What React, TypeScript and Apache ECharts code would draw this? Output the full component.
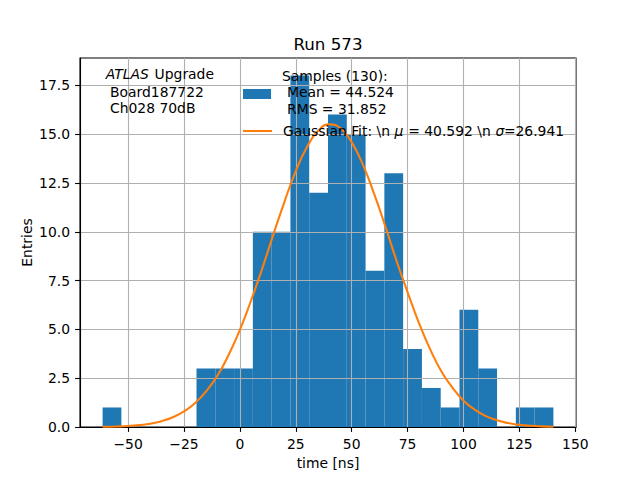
import React, { useEffect, useRef } from "react";
import * as echarts from "echarts";

const binEdges = [
  -61.4, -53.0, -44.6, -36.2, -27.8, -19.4, -11.0, -2.6, 5.8, 14.2, 22.6, 31.0,
  39.4, 47.8, 56.2, 64.6, 73.0, 81.4, 89.8, 98.2, 106.6, 115.0, 123.4, 131.8, 140.2,
];
const counts = [1, 0, 0, 0, 0, 3, 3, 3, 10, 10, 18, 12, 16, 15, 8, 13, 4, 2, 1, 6, 3, 0, 1, 1];

const fitX = [
  -61.4, -55, -50, -45, -40, -35, -30, -25, -20, -15, -10, -5, 0, 5, 10, 15, 20, 25, 30, 35,
  40, 45, 50, 55, 60, 65, 70, 75, 80, 85, 90, 95, 100, 105, 110, 115, 120, 125, 130, 135, 140.2,
];
const fitY = [
  0.012, 0.029, 0.053, 0.1, 0.17, 0.3, 0.5, 0.8, 1.23, 1.84, 2.64, 3.7, 4.97, 6.48, 8.12,
  9.87, 11.56, 13.11, 14.34, 15.17, 15.5, 15.3, 14.58, 13.44, 11.95, 10.29, 8.53, 6.9, 5.35,
  4.0, 2.87, 2.02, 1.35, 0.89, 0.56, 0.34, 0.2, 0.11, 0.06, 0.033, 0.017,
];

const xTicks = [-50, -25, 0, 25, 50, 75, 100, 125, 150];
const yTicks = [0, 2.5, 5, 7.5, 10, 12.5, 15, 17.5];

const FONT = "DejaVu Sans";
const FS = 13.9;

export default function App() {
  const ref = useRef<HTMLDivElement>(null);
  useEffect(() => {
    if (!ref.current) return;
    const chart = echarts.init(ref.current, null, { renderer: "svg" });
    const histData = counts.map((c, i) => [binEdges[i], binEdges[i + 1], c]);
    const fitData = fitX.map((x, i) => [x, fitY[i]]);
    const txt = (text: string, x: number, y: number, extra: any = {}) => ({
      type: "text",
      z: 100,
      x,
      y,
      style: {
        text,
        fill: "#000",
        font: `${extra.italic ? "italic " : ""}${FS}px "${FONT}"`,
        align: extra.align || "left",
        verticalAlign: "middle",
        ...(extra.style || {}),
      },
    });
    chart.setOption({
      animation: false,
      backgroundColor: "#fff",
      grid: {
        left: 80,
        right: 64,
        top: 58,
        bottom: 53,
        show: true,
        borderColor: "#000",
        borderWidth: 1.1,
        backgroundColor: "transparent",
      },
      xAxis: {
        type: "value",
        min: -71.5,
        max: 150.3,
        z: 2,
        name: "time [ns]",
        nameLocation: "middle",
        nameGap: 29,
        nameMoveOverlap: false,
        nameTextStyle: { color: "#000", fontSize: FS, fontFamily: FONT },
        axisLine: { show: true, onZero: false, lineStyle: { color: "#000", width: 1.1 } },
        axisTick: {
          show: true,
          customValues: xTicks,
          length: 4.9,
          lineStyle: { color: "#000", width: 1.1 },
        },
        axisLabel: {
          customValues: xTicks,
          margin: 10,
          color: "#000",
          fontSize: FS,
          fontFamily: FONT,
          formatter: (v: number) => (v < 0 ? "\u2212" + Math.abs(v) : String(v)),
        },
        splitLine: { show: true, lineStyle: { color: "#b0b0b0", width: 1.1 } },
      },
      yAxis: {
        type: "value",
        min: 0,
        max: 18.9,
        z: 2,
        name: "Entries",
        nameLocation: "middle",
        nameGap: 46,
        nameMoveOverlap: false,
        nameTextStyle: { color: "#000", fontSize: FS, fontFamily: FONT },
        axisLine: { show: true, onZero: false, lineStyle: { color: "#000", width: 1.1 } },
        axisTick: {
          show: true,
          customValues: yTicks,
          length: 4.9,
          lineStyle: { color: "#000", width: 1.1 },
        },
        axisLabel: {
          customValues: yTicks,
          margin: 10,
          color: "#000",
          fontSize: FS,
          fontFamily: FONT,
          formatter: (v: number) => v.toFixed(1),
        },
        splitLine: { show: true, lineStyle: { color: "#b0b0b0", width: 1.1 } },
      },
      series: [
        {
          type: "custom",
          z: 1,
          data: histData,
          encode: { x: [0, 1], y: 2 },
          renderItem: (params: any, api: any) => {
            const x0 = api.value(0);
            const x1 = api.value(1);
            const h = api.value(2);
            const p0 = api.coord([x0, h]);
            const p1 = api.coord([x1, 0]);
            return {
              type: "rect",
              shape: { x: p0[0], y: p0[1], width: p1[0] - p0[0], height: p1[1] - p0[1] },
              style: { fill: "#1f77b4" },
            };
          },
        },
        {
          type: "line",
          z: 3,
          data: fitData,
          showSymbol: false,
          smooth: true,
          lineStyle: { color: "#ff7f0e", width: 2.08 },
        },
      ],
      graphic: [
        txt("Run 573", 328, 43.5, { align: "center", style: { font: `16.7px "${FONT}"` } }),
        txt("ATLAS", 105.7, 74, { italic: true }),
        txt("Upgrade", 154.6, 74),
        txt("Board187722", 110, 92.3),
        txt("Ch028 70dB", 110, 107.8),
        {
          type: "rect",
          z: 100,
          shape: { x: 243, y: 89, width: 28, height: 10 },
          style: { fill: "#1f77b4" },
        },
        txt("Samples (130):", 282, 76),
        txt("Mean = 44.524", 287, 92.3),
        txt("RMS = 31.852", 287, 108.8),
        {
          type: "line",
          z: 100,
          shape: { x1: 243, y1: 131, x2: 272, y2: 131 },
          style: { stroke: "#ff7f0e", lineWidth: 2.08 },
        },
        txt("Gaussian Fit: \\n", 283, 131),
        txt("\u03bc", 399, 131, { italic: true, align: "center" }),
        txt("= 40.592 \\n", 449.5, 131, { align: "center" }),
        txt("\u03c3", 500, 131, { italic: true, align: "center" }),
        txt("=26.941", 534, 131, { align: "center" }),
      ],
    });
    return () => chart.dispose();
  }, []);
  return (
    <div
      ref={ref}
      style={{ position: "absolute", left: 0, top: 0, width: 640, height: 480, background: "#fff" }}
    />
  );
}
